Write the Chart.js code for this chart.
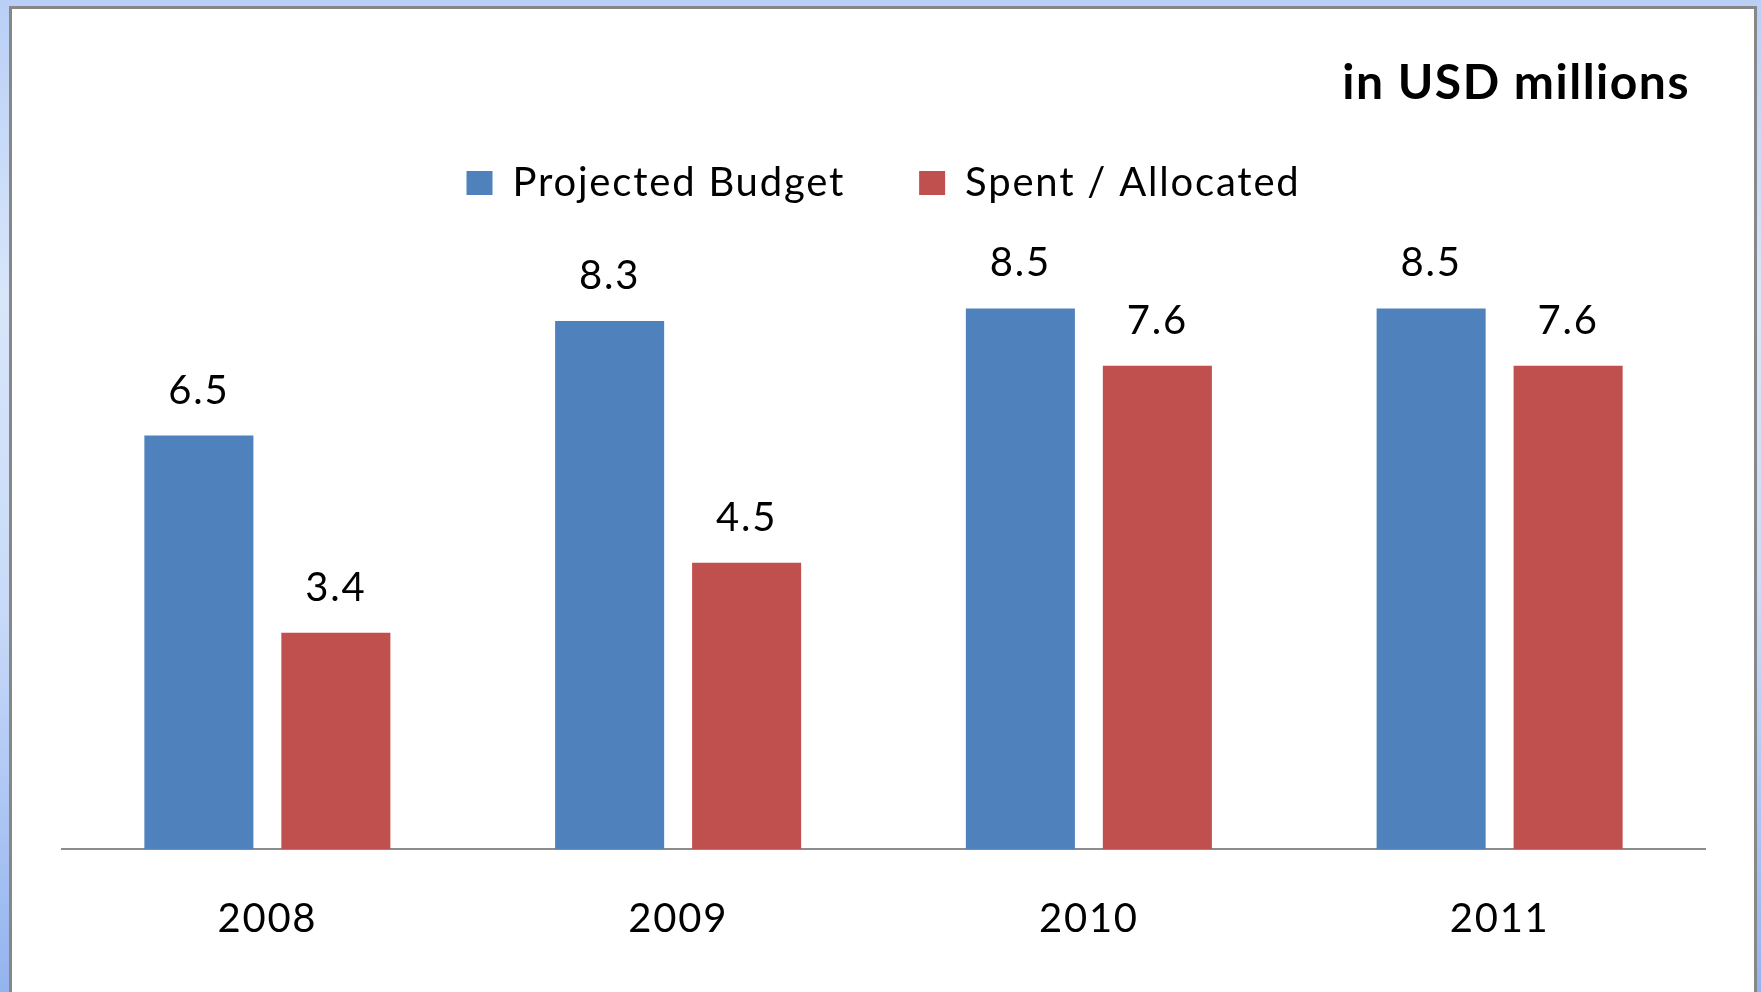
<!DOCTYPE html>
<html>
<head>
<meta charset="utf-8">
<script src="https://cdn.jsdelivr.net/npm/chart.js@4"></script>
<style>
  html, body { margin: 0; padding: 0; width: 1761px; height: 992px; overflow: hidden; }
  body { background: linear-gradient(180deg, #b9cff6 0%, #d8e6fb 30%, #c9dbf8 60%, #94b4ef 100%); position: relative; }
  #frame { position: absolute; left: 9px; top: 6px; width: 1742px; height: 1000px; background: #fff;
           border-left: 3px solid #878787; border-top: 3px solid #878787; border-right: 3px solid #878787; }
  #wrap { position: absolute; left: 0; top: 0; width: 1761px; height: 992px; }
</style>
</head>
<body>
<div id="frame"></div>
<div id="wrap"><canvas id="c" width="1761" height="992"></canvas></div>
<script>
const categories = ['2008', '2009', '2010', '2011'];
const projectedBudget = [6.5, 8.3, 8.5, 8.5];
const spentAllocated = [3.4, 4.5, 7.6, 7.6];
const seriesNames = ['Projected Budget', 'Spent / Allocated'];
const unitTitle = 'in USD millions';

const FONT = 'Lato, "Open Sans", "Liberation Sans", sans-serif';
const SPACING = '1.8px';

const spacingPlugin = {
  id: 'spacing',
  beforeLayout(chart) { chart.ctx.letterSpacing = SPACING; },
  beforeDraw(chart) { chart.ctx.letterSpacing = SPACING; }
};

const titlePlugin = {
  id: 'unitTitle',
  afterDraw(chart) {
    const ctx = chart.ctx;
    ctx.save();
    ctx.letterSpacing = '1.5px';
    ctx.font = 'bold 48px ' + FONT;
    ctx.fillStyle = '#000';
    ctx.textAlign = 'right';
    ctx.textBaseline = 'middle';
    ctx.fillText(unitTitle, 1690, 84);
    ctx.restore();
  }
};

const labelPlugin = {
  id: 'barLabels',
  afterDatasetsDraw(chart) {
    const ctx = chart.ctx;
    ctx.save();
    ctx.font = '40px ' + FONT;
    ctx.fillStyle = '#000';
    ctx.textAlign = 'center';
    ctx.textBaseline = 'alphabetic';
    chart.data.datasets.forEach((ds, i) => {
      const meta = chart.getDatasetMeta(i);
      meta.data.forEach((bar, j) => {
        ctx.fillText(ds.data[j].toFixed(1), bar.x, bar.y - 32);
      });
    });
    ctx.restore();
  }
};

new Chart(document.getElementById('c'), {
  type: 'bar',
  data: {
    labels: categories,
    datasets: [
      { label: seriesNames[0], data: projectedBudget, backgroundColor: '#4F81BD', borderWidth: 0,
        categoryPercentage: 0.667, barPercentage: 0.796 },
      { label: seriesNames[1], data: spentAllocated, backgroundColor: '#C0504D', borderWidth: 0,
        categoryPercentage: 0.667, barPercentage: 0.796 }
    ]
  },
  options: {
    responsive: false,
    animation: false,
    layout: { padding: { top: 89, left: 62, right: 56, bottom: 3 } },
    plugins: {
      legend: {
        display: true,
        position: 'top',
        align: 'center',
        labels: {
          boxWidth: 26, boxHeight: 24, padding: 74,
          color: '#000',
          font: { family: FONT, size: 40 }
        }
      },
      title: { display: false },
      tooltip: { enabled: false }
    },
    scales: {
      x: {
        grid: { display: false, drawTicks: false },
        border: { display: true, color: '#8c8c8c', width: 2 },
        ticks: { color: '#000', padding: 46, font: { family: FONT, size: 40 } }
      },
      y: {
        display: false,
        min: 0,
        max: 10
      }
    }
  },
  plugins: [spacingPlugin, titlePlugin, labelPlugin]
});
</script>
</body>
</html>
